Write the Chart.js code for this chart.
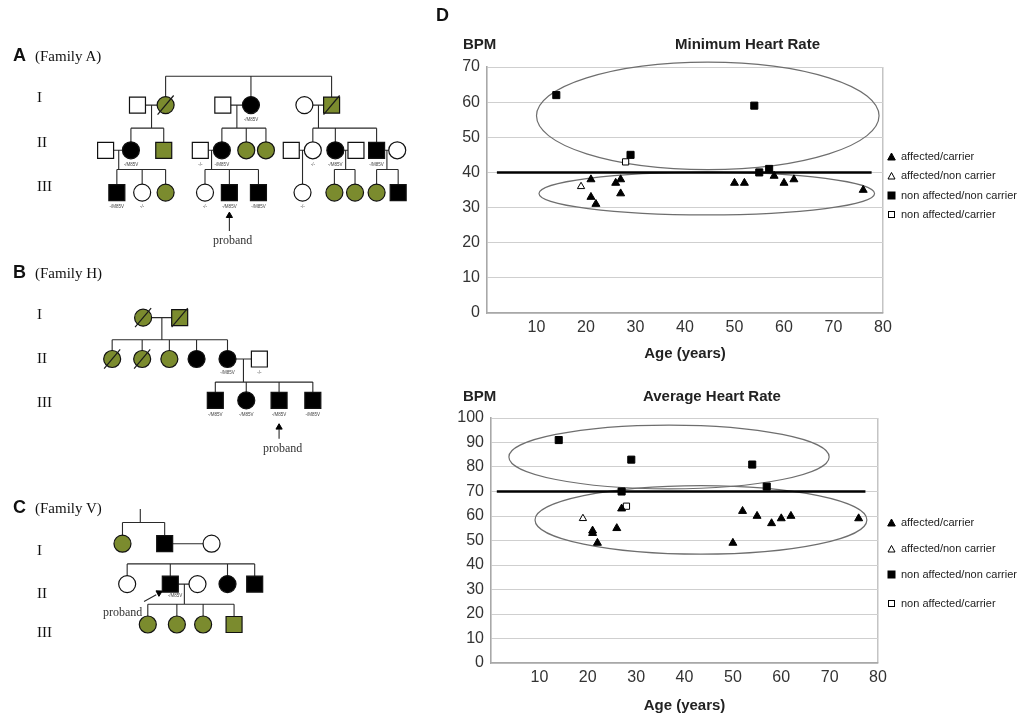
<!DOCTYPE html>
<html>
<head>
<meta charset="utf-8">
<script src="https://cdn.jsdelivr.net/npm/chart.js@4.4.1/dist/chart.umd.min.js"></script>
<style>
  body { margin: 0; background: #fff; }
  #fig { position: relative; width: 1026px; height: 719px; overflow: hidden; font-family: "Liberation Sans", Arial, sans-serif; color: #111; }
  canvas { position: absolute; }
  .lbl { position: absolute; white-space: nowrap; line-height: 1; transform: translateY(-50%); }
  .panel { font-weight: bold; font-size: 18px; }
  .serif { font-family: "Liberation Serif", "Times New Roman", serif; font-size: 15px; }
  .small { font-family: "Liberation Serif", "Times New Roman", serif; font-size: 12px; color: #333; }
  .ttl { font-weight: bold; font-size: 15px; color: #222; }
  .leg { position: absolute; left: 887px; font-size: 11px; color: #222; display: flex; align-items: center; transform: translateY(-50%); white-space: nowrap; }
  .leg svg { margin-right: 5px; }
</style>
</head>
<body>
<div id="fig">
  <canvas id="pedigree" width="440" height="719" style="left:0;top:0"></canvas>
  <canvas id="minChart" width="460" height="370" style="left:440px;top:0"></canvas>
  <canvas id="avgChart" width="460" height="349" style="left:440px;top:370px"></canvas>

  <div class="lbl panel" style="left:13px;top:55px">A</div>
  <div class="lbl serif" style="left:35px;top:56px">(Family A)</div>
  <div class="lbl panel" style="left:13px;top:272px">B</div>
  <div class="lbl serif" style="left:35px;top:273px">(Family H)</div>
  <div class="lbl panel" style="left:13px;top:507px">C</div>
  <div class="lbl serif" style="left:35px;top:508px">(Family V)</div>
  <div class="lbl panel" style="left:436px;top:15px">D</div>

  <div class="lbl serif" style="left:37px;top:97px">I</div>
  <div class="lbl serif" style="left:37px;top:142px">II</div>
  <div class="lbl serif" style="left:37px;top:186px">III</div>
  <div class="lbl serif" style="left:37px;top:314px">I</div>
  <div class="lbl serif" style="left:37px;top:358px">II</div>
  <div class="lbl serif" style="left:37px;top:402px">III</div>
  <div class="lbl serif" style="left:37px;top:550px">I</div>
  <div class="lbl serif" style="left:37px;top:593px">II</div>
  <div class="lbl serif" style="left:37px;top:632px">III</div>

  <div class="lbl small" style="left:213px;top:240px">proband</div>
  <div class="lbl small" style="left:263px;top:448px">proband</div>
  <div class="lbl small" style="left:103px;top:612px">proband</div>

  <div class="lbl ttl" style="left:463px;top:43px">BPM</div>
  <div class="lbl ttl" style="left:675px;top:43px">Minimum Heart Rate</div>
  <div class="lbl ttl" style="left:463px;top:395px">BPM</div>
  <div class="lbl ttl" style="left:643px;top:395px">Average Heart Rate</div>
</div>

<script>
const sans = "'Liberation Sans', Arial, sans-serif";

// ---- heart rate data: [age, bpm] ----
const groupLabels = ["affected/carrier", "affected/non carrier", "non affected/non carrier", "non affected/carrier"];

const minAffectedCarrier = [[21, 38], [21, 33], [22, 31], [26, 37], [27, 38], [27, 34], [50, 37], [52, 37], [58, 39], [60, 37], [62, 38], [76, 35]];
const minAffectedNonCarrier = [[19, 36]];
const minNonAffectedNonCarrier = [[14, 62], [29, 45], [54, 59], [55, 40], [57, 41]];
const minNonAffectedCarrier = [[28, 43]];
const minCutoff = 40;
const minCutoffAges = [2, 77.7];
const minEllipses = [[44.6, 56.1, 34.6, 15.3], [44.4, 34.0, 33.9, 6.1]]; // centre age, centre bpm, half width, half height
const minYMax = 70;

const avgAffectedCarrier = [[21, 54], [21, 53], [22, 49], [26, 55], [27, 63], [50, 49], [52, 62], [55, 60], [58, 57], [60, 59], [62, 60], [76, 59]];
const avgAffectedNonCarrier = [[19, 59]];
const avgNonAffectedNonCarrier = [[14, 91], [29, 83], [54, 81], [57, 72], [27, 70]];
const avgNonAffectedCarrier = [[28, 64]];
const avgCutoff = 70;
const avgCutoffAges = [1.2, 77.4];
const avgEllipses = [[36.8, 84.1, 33.1, 13.0], [43.4, 58.4, 34.3, 14.0]];
const avgYMax = 100;

const ageMax = 80;

// ---- pedigrees: [x, y, shape, fill, deceased] in layout units ----
const pedNodes = [
  // family A
  [132, 95, "sq", "w"], [162, 95, "ci", "g", 1], [223, 95, "sq", "w"], [253, 95, "ci", "k"], [310, 95, "ci", "w"], [339, 95, "sq", "g", 1],
  [98, 142, "sq", "w"], [125, 142, "ci", "k"], [160, 142, "sq", "g"], [199, 142, "sq", "w"], [222, 142, "ci", "k"], [248, 142, "ci", "g"], [269, 142, "ci", "g"],
  [296, 142, "sq", "w"], [319, 142, "ci", "w"], [343, 142, "ci", "k"], [365, 142, "sq", "w"], [387, 142, "sq", "k"], [409, 142, "ci", "w"],
  [110, 186, "sq", "k"], [137, 186, "ci", "w"], [162, 186, "ci", "g"], [204, 186, "ci", "w"], [230, 186, "sq", "k"], [261, 186, "sq", "k"],
  [308, 186, "ci", "w"], [342, 186, "ci", "g"], [364, 186, "ci", "g"], [387, 186, "ci", "g"], [410, 186, "sq", "k"],
  // family H
  [138, 316, "ci", "g", 1], [177, 316, "sq", "g", 1],
  [105, 359, "ci", "g", 1], [137, 359, "ci", "g", 1], [166, 359, "ci", "g"], [195, 359, "ci", "k"], [228, 359, "ci", "k"], [262, 359, "sq", "w"],
  [215, 402, "sq", "k"], [248, 402, "ci", "k"], [283, 402, "sq", "k"], [319, 402, "sq", "k"],
  // family V
  [116, 551, "ci", "g"], [161, 551, "sq", "k"], [211, 551, "ci", "w"],
  [121, 593, "ci", "w"], [167, 593, "sq", "k"], [196, 593, "ci", "w"], [228, 593, "ci", "k"], [257, 593, "sq", "k"],
  [143, 635, "ci", "g"], [174, 635, "ci", "g"], [202, 635, "ci", "g"], [235, 635, "sq", "g"]
];

const pedLines = [
  // family A
  [162, 65, 339, 65], [162, 65, 162, 87], [253, 65, 253, 87], [339, 65, 339, 87],
  [140, 95, 154, 95], [231, 95, 245, 95], [318, 95, 331, 95],
  [147, 95, 147, 119], [238, 95, 238, 119], [325, 95, 325, 119],
  [125, 119, 160, 119], [222, 119, 269, 119], [319, 119, 387, 119],
  [125, 119, 125, 134], [160, 119, 160, 134], [222, 119, 222, 134], [248, 119, 248, 134], [269, 119, 269, 134],
  [319, 119, 319, 134], [343, 119, 343, 134], [387, 119, 387, 134],
  [106, 142, 117, 142], [207, 142, 214, 142], [304, 142, 311, 142], [351, 142, 357, 142], [395, 142, 401, 142],
  [112, 142, 112, 162], [211, 142, 211, 162], [308, 142, 308, 178], [354, 142, 354, 162], [398, 142, 398, 162],
  [110, 162, 162, 162], [204, 162, 261, 162], [342, 162, 364, 162], [387, 162, 410, 162],
  [110, 162, 110, 178], [137, 162, 137, 178], [162, 162, 162, 178], [204, 162, 204, 178], [230, 162, 230, 178], [261, 162, 261, 178],
  [342, 162, 342, 178], [364, 162, 364, 178], [387, 162, 387, 178], [410, 162, 410, 178],
  [230, 226, 230, 212],
  // family H
  [146, 316, 169, 316], [158, 316, 158, 339], [105, 339, 228, 339],
  [105, 339, 105, 351], [137, 339, 137, 351], [166, 339, 166, 351], [195, 339, 195, 351], [228, 339, 228, 351],
  [236, 359, 254, 359], [245, 359, 245, 383], [215, 383, 319, 383],
  [215, 383, 215, 394], [248, 383, 248, 394], [283, 383, 283, 394], [319, 383, 319, 394],
  [283, 442, 283, 432],
  // family V
  [135, 515, 135, 529], [116, 529, 161, 529], [116, 529, 116, 543], [161, 529, 161, 543], [169, 551, 203, 551],
  [121, 572, 257, 572], [121, 572, 121, 585], [167, 572, 167, 585], [228, 572, 228, 585], [257, 572, 257, 585],
  [175, 593, 188, 593], [182, 593, 182, 614], [143, 614, 235, 614],
  [143, 614, 143, 627], [174, 614, 174, 627], [202, 614, 202, 627], [235, 614, 235, 627],
  [139, 611, 152, 604]
];

const pedArrowHeads = [[230, 210, 0], [283, 430, 0], [155, 602, 62]];

const pedTags = [
  [253, 110, "-/M85V"],
  [125, 157, "-/M85V"], [199, 157, "-/-"], [222, 157, "-/M85V"], [319, 157, "-/-"], [343, 157, "-/M85V"], [387, 157, "-/M85V"],
  [110, 201, "-/M85V"], [137, 201, "-/-"], [204, 201, "-/-"], [230, 201, "-/M85V"], [261, 201, "-/M85V"], [308, 201, "-/-"],
  [228, 373, "-/M85V"], [262, 373, "-/-"],
  [215, 417, "-/M85V"], [248, 417, "-/M85V"], [283, 417, "-/M85V"], [319, 417, "-/M85V"],
  [172, 605, "-/M85V"]
];

const fills = { w: "#ffffff", k: "#000000", g: "#7b8b2e" };

// ---- pedigree chart ----
const tagPlugin = {
  id: "tags",
  afterDatasetsDraw(chart) {
    const { ctx, scales: { x, y } } = chart;
    ctx.save();
    ctx.font = "4.5px " + sans;
    ctx.fillStyle = "#444";
    ctx.textAlign = "center";
    ctx.textBaseline = "middle";
    pedTags.forEach(([tx, ty, t]) => ctx.fillText(t, x.getPixelForValue(tx), y.getPixelForValue(ty)));
    ctx.restore();
  }
};

const segData = [];
pedLines.forEach(([x1, y1, x2, y2]) => {
  segData.push({ x: x1, y: y1 }, { x: x2, y: y2 }, { x: x2, y: null });
});

new Chart(document.getElementById("pedigree"), {
  type: "scatter",
  data: {
    datasets: [
      {
        data: segData, showLine: true, spanGaps: false, borderColor: "#2a2a2a", borderWidth: 1.1,
        pointRadius: 0, order: 3, clip: false
      },
      {
        data: pedNodes.map((n) => ({ x: n[0], y: n[1] })),
        pointStyle: pedNodes.map((n) => (n[2] === "sq" ? "rect" : "circle")),
        pointRadius: pedNodes.map((n) => (n[2] === "sq" ? 11.3 : 8.5)),
        pointBackgroundColor: pedNodes.map((n) => fills[n[3]]),
        pointBorderColor: "#111", pointBorderWidth: 1.2, order: 2, clip: false
      },
      {
        data: pedNodes.filter((n) => n[4]).map((n) => ({ x: n[0], y: n[1] })),
        pointStyle: "line", pointRotation: -50, pointRadius: 12.5,
        pointBorderColor: "#1a1a1a", pointBorderWidth: 1.2, order: 1, clip: false
      },
      {
        data: pedArrowHeads.map((a) => ({ x: a[0], y: a[1] })),
        pointStyle: "triangle", pointRotation: pedArrowHeads.map((a) => a[2]), pointRadius: 3.6,
        pointBackgroundColor: "#000", pointBorderColor: "#000", pointBorderWidth: 1, order: 0, clip: false
      }
    ]
  },
  options: {
    responsive: false, animation: false, events: [],
    layout: { padding: 0 },
    plugins: { legend: { display: false }, tooltip: { enabled: false } },
    scales: {
      x: { type: "linear", min: 0, max: 440, display: false },
      y: { type: "linear", min: 0, max: 719, reverse: true, display: false }
    }
  },
  plugins: [tagPlugin]
});

// ---- heart rate charts ----
const groupStyles = [
  { pointStyle: "triangle", radius: 4.6, fill: "#000" },
  { pointStyle: "triangle", radius: 4.2, fill: "#fff" },
  { pointStyle: "rect", radius: 5, fill: "#000" },
  { pointStyle: "rect", radius: 4.4, fill: "#fff" }
];

const ellipsePlugin = {
  id: "ellipses",
  beforeDatasetsDraw(chart, args, opts) {
    const { ctx, scales: { x, y } } = chart;
    ctx.save();
    ctx.strokeStyle = "#6e6e6e";
    ctx.lineWidth = 1.2;
    (opts.list || []).forEach(([cx, cy, rx, ry]) => {
      const px = x.getPixelForValue(cx);
      const py = y.getPixelForValue(cy);
      const prx = x.getPixelForValue(cx + rx) - px;
      const pry = py - y.getPixelForValue(cy + ry);
      ctx.beginPath();
      ctx.ellipse(px, py, prx, pry, 0, 0, Math.PI * 2);
      ctx.stroke();
    });
    ctx.restore();
  }
};

function heartChart(id, groups, cutoff, cutoffAges, ellipses, yMax, box) {
  const datasets = groups.map((pts, i) => ({
    label: groupLabels[i],
    data: pts.map(([a, b]) => ({ x: a, y: b })),
    pointStyle: groupStyles[i].pointStyle,
    pointRadius: groupStyles[i].radius,
    pointBackgroundColor: groupStyles[i].fill,
    pointBorderColor: "#000",
    pointBorderWidth: 1,
    clip: false
  }));
  datasets.push({
    label: "cutoff",
    data: cutoffAges.map((a) => ({ x: a, y: cutoff })),
    showLine: true, borderColor: "#000", borderWidth: 2.5, pointRadius: 0, order: 5
  });

  return new Chart(document.getElementById(id), {
    type: "scatter",
    data: { datasets },
    options: {
      responsive: false, animation: false, events: [],
      layout: { padding: { top: box.top, right: box.right, left: 0, bottom: 0 } },
      plugins: { legend: { display: false }, tooltip: { enabled: false }, ellipses: { list: ellipses } },
      scales: {
        x: {
          type: "linear", min: 0, max: ageMax,
          ticks: { stepSize: 10, callback: (v) => (v === 0 ? "" : v), font: { family: sans, size: 16 }, color: "#333", padding: 5, maxRotation: 0 },
          grid: { drawTicks: false, lineWidth: 1.5, color: (c) => (c.tick && c.tick.value === ageMax ? "#c4c4c4" : "rgba(0,0,0,0)") },
          border: { color: "#a8a8a8", width: 1.6 },
          title: { display: true, text: "Age (years)", font: { family: sans, size: 15, weight: "bold" }, color: "#222", padding: { top: 0, bottom: box.titlePad } },
          afterFit: (s) => { s.height = box.xHeight; }
        },
        y: {
          type: "linear", min: 0, max: yMax,
          ticks: { stepSize: 10, font: { family: sans, size: 16 }, color: "#333", padding: 7 },
          grid: { drawTicks: false, color: "#cfcfcf" },
          border: { color: "#a8a8a8", width: 1.6 },
          afterFit: (s) => { s.width = box.yWidth; }
        }
      }
    },
    plugins: [ellipsePlugin]
  });
}

heartChart("minChart",
  [minAffectedCarrier, minAffectedNonCarrier, minNonAffectedNonCarrier, minNonAffectedCarrier],
  minCutoff, minCutoffAges, minEllipses, minYMax,
  { top: 67, right: 17, yWidth: 47, xHeight: 57, titlePad: 7 });

heartChart("avgChart",
  [avgAffectedCarrier, avgAffectedNonCarrier, avgNonAffectedNonCarrier, avgNonAffectedCarrier],
  avgCutoff, avgCutoffAges, avgEllipses, avgYMax,
  { top: 48, right: 22, yWidth: 51, xHeight: 56, titlePad: 4 });

// html legends
const markerSvg = [
  '<svg width="9" height="9"><polygon points="4.5,1 8.3,8 0.7,8" fill="#000" stroke="#000"/></svg>',
  '<svg width="9" height="9"><polygon points="4.5,1.5 8,8 1,8" fill="#fff" stroke="#000"/></svg>',
  '<svg width="9" height="9"><rect x="1" y="1" width="7" height="7" fill="#000" stroke="#000"/></svg>',
  '<svg width="9" height="9"><rect x="1.5" y="1.5" width="6" height="6" fill="#fff" stroke="#000"/></svg>'
];
function addLegend(rows) {
  const fig = document.getElementById("fig");
  groupLabels.forEach((label, i) => {
    const el = document.createElement("div");
    el.className = "leg";
    el.style.top = rows[i] + "px";
    el.innerHTML = markerSvg[i] + label;
    fig.appendChild(el);
  });
}
addLegend([156, 175, 195, 214]);
addLegend([522, 548, 574, 603]);
</script>
</body>
</html>
